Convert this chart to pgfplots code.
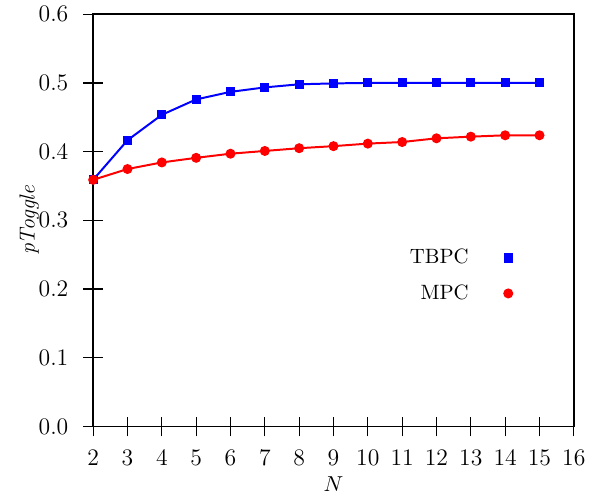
\documentclass[border=0pt]{standalone}
\usepackage{pgfplots}
\pgfplotsset{compat=1.18}
\begin{document}
\begin{tikzpicture}
\begin{axis}[
  scale only axis,
  width=242.5bp, height=208bp,
  xmin=2, xmax=16, ymin=0, ymax=0.6,
  xtick={2,3,...,16},
  ytick={0,0.1,...,0.6},
  tick label style={font=\large},
  yticklabel style={/pgf/number format/fixed,/pgf/number format/fixed zerofill,/pgf/number format/precision=1, xshift=-4bp},
  xticklabel style={yshift=-3.5bp},
  tick pos=left,
  tick align=center,
  major tick length=10bp,
  axis line style={line width=1bp},
  every tick/.style={black, line width=0.6bp},
  label style={font=\fontsize{11}{13}\selectfont},
  xlabel={$N$},
  ylabel={\textit{pToggle}},
  xlabel style={yshift=1bp},
  ylabel style={yshift=-7bp},
  clip=false,
  legend plot pos=right,
  legend cell align=right,
  legend style={draw=none, fill=none, at={(0.885,0.45)}, anchor=north east, row sep=5bp,
    column sep=16bp, font=\fontsize{10.5}{12}\selectfont},
  legend image code/.code={\draw[#1] plot[only marks] coordinates {(0cm,0cm)};},
]
\addplot[blue, line width=1bp, mark=square*, mark size=1.8bp, mark options={solid}] coordinates {
(2,0.359) (3,0.4166) (4,0.4536) (5,0.476) (6,0.487) (7,0.4935) (8,0.498) (9,0.4993) (10,0.5) (11,0.5) (12,0.5) (13,0.5) (14,0.5) (15,0.5)
};
\addlegendentry{TBPC}
\addplot[red, line width=1bp, mark=*, mark size=2bp, mark options={solid}] coordinates {
(2,0.359) (3,0.3747) (4,0.3843) (5,0.391) (6,0.397) (7,0.401) (8,0.405) (9,0.408) (10,0.4117) (11,0.414) (12,0.4194) (13,0.4218) (14,0.4238) (15,0.4238)
};
\addlegendentry{MPC}
\end{axis}
\path (current axis.south west) ++(-47bp,-33.5bp) coordinate (bbA);
\path (current axis.north east) ++(6.5bp,7bp) coordinate (bbB);
\path (bbA) rectangle (bbB);
\end{tikzpicture}
\end{document}
